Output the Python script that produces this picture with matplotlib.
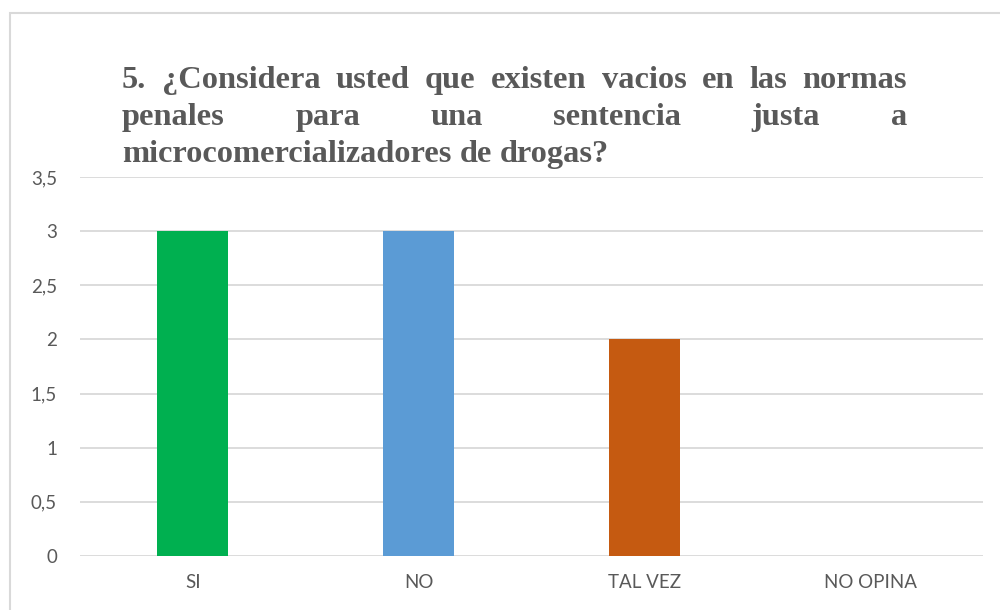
import matplotlib
matplotlib.use("Agg")
import matplotlib.pyplot as plt
from matplotlib.patches import Rectangle
from matplotlib.ticker import FuncFormatter

categories = ["SI", "NO", "TAL VEZ", "NO OPINA"]
values = [3, 3, 2, 0]
bar_colors = ["#00B050", "#5B9BD5", "#C55A11", "#A5A5A5"]
title_lines = [
    "5. ¿Considera usted que existen vacios en las normas",
    "penales para una sentencia justa a",
    "microcomercializadores de drogas?",
]

W, H = 1000, 610
text_color = "#595959"
grid_color = "#D9D9D9"

fig = plt.figure(figsize=(W / 100, H / 100), dpi=100)

# chart frame
fig.add_artist(Rectangle((10 / W, -0.05), 1.05, (H - 13) / H + 0.05, transform=fig.transFigure,
                         fill=False, edgecolor=grid_color, lw=1.5))

ax = fig.add_axes([80 / W, 1 - 556 / H, (983 - 80) / W, (556 - 177) / H])
x = range(len(categories))
ax.bar(x, values, width=0.315, color=bar_colors, zorder=2)
ax.set_xlim(-0.5, len(categories) - 0.5)
ax.set_ylim(0, 3.5)
ax.set_yticks([i * 0.5 for i in range(8)])
ax.yaxis.set_major_formatter(FuncFormatter(lambda v, p: f"{v:g}".replace(".", ",")))
ax.set_xticks(list(x))
ax.set_xticklabels(categories)
for s in ax.spines.values():
    s.set_visible(False)
ax.grid(axis="y", color=grid_color, lw=1.3, zorder=0)
ax.tick_params(length=0, labelsize=13.5, labelcolor=text_color, pad=13)
ax.tick_params(axis="y", pad=16.5)
for lab in ax.get_xticklabels() + ax.get_yticklabels():
    lab.set_family("Lato")

# justified title
renderer = fig.canvas.get_renderer()
x0, x1 = 122, 907
baselines = [88, 125, 162]
font = dict(family="Liberation Serif", weight="bold", size=23.3, color=text_color)
for i, (line, yb) in enumerate(zip(title_lines, baselines)):
    words = line.split(" ")
    arts = [fig.text(0, 1 - yb / H, w, va="baseline", ha="left", **font) for w in words]
    widths = [a.get_window_extent(renderer).width for a in arts]
    if i < len(title_lines) - 1 and len(words) > 1:
        gap = (x1 - x0 - sum(widths)) / (len(words) - 1)
    else:
        sp = fig.text(0, 0, "a a", **font).get_window_extent(renderer).width
        aa = fig.text(0, 0, "aa", **font)
        gap = sp - aa.get_window_extent(renderer).width
        fig.texts = fig.texts[:-2]
    pos = x0
    for a, w in zip(arts, widths):
        a.set_x(pos / W)
        pos += w + gap

fig.savefig("out.png", dpi=100)
